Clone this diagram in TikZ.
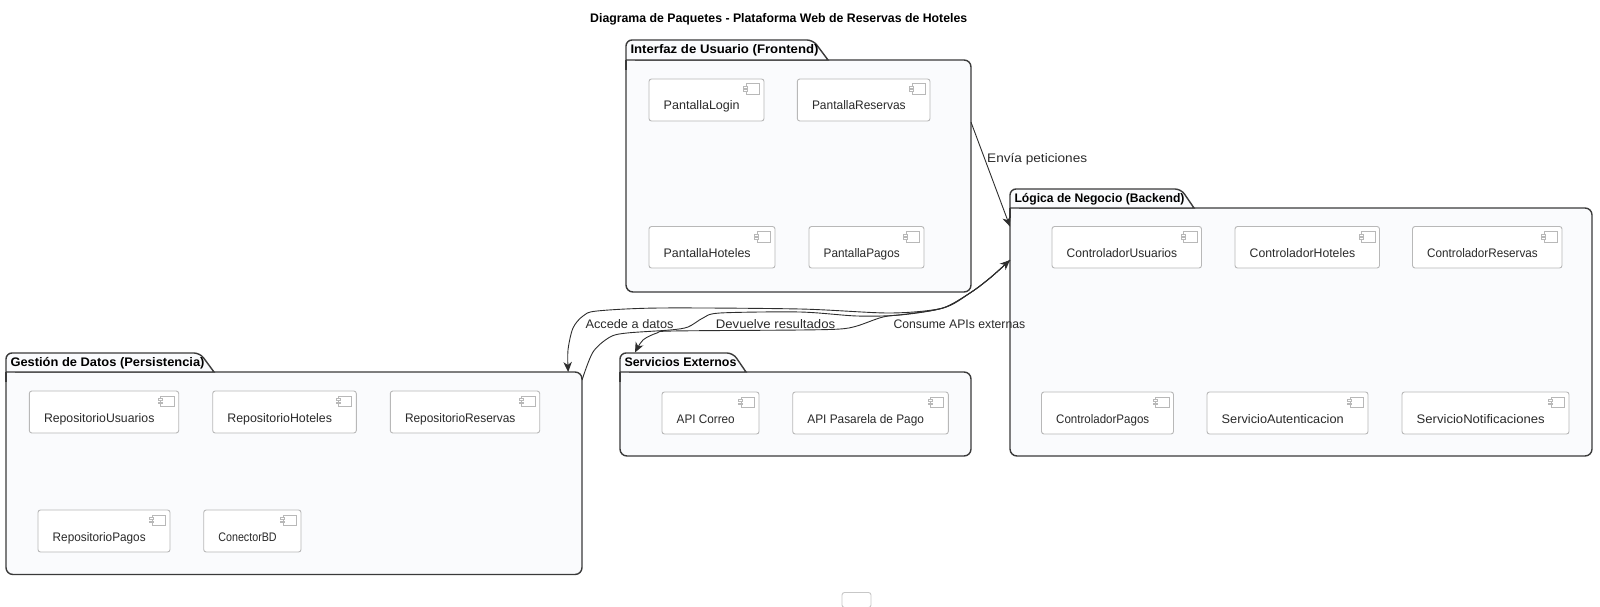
\documentclass[tikz,border=0pt]{standalone}
\usepackage{graphicx}
\usepackage{fontspec}
\setmainfont{Liberation Sans}
\usetikzlibrary{calc,arrows.meta}
\definecolor{pkgfill}{HTML}{FAFBFD}
\definecolor{pkgline}{HTML}{3A3A3A}
\definecolor{compline}{HTML}{B8B8B8}
\definecolor{txt}{HTML}{2A2A2A}
\newcommand{\fitw}[2]{\resizebox{#1pt}{\height}{#2}}
\tikzset{
  pkgbody/.style={draw=pkgline,fill=pkgfill,line width=1.4pt,rounded corners=7pt,inner sep=0pt,outer sep=0pt},
  pkgtab/.style={draw=pkgline,fill=pkgfill,line width=1.4pt},
  pkgtitle/.style={font=\bfseries\fontsize{12.4}{14}\selectfont,text=black,anchor=base west,inner sep=0pt},
  compnode/.style={draw=compline,fill=white,line width=0.9pt,rounded corners=2.5pt,inner sep=0pt,outer sep=0pt},
  comptext/.style={font=\fontsize{12.4}{14}\selectfont,text=txt,inner sep=0pt,anchor=base west},
  compicon/.style={draw=compline,fill=white,line width=0.6pt},
  link/.style={draw=black!82,line width=0.9pt,-{Stealth[length=10pt,width=8.5pt,inset=3pt]}},
  linklabel/.style={font=\fontsize{12.4}{14}\selectfont,text=txt,inner sep=0pt,anchor=base west}
}
% name x0 y0 x1 y1 tabtop tabTopRight tabBottomRight title
\newcommand{\pkgbox}[9]{%
  \pgfmathsetmacro{\pw}{#4-#2}\pgfmathsetmacro{\ph}{#5-#3}%
  \pgfmathsetmacro{\pcx}{(#2+#4)/2}\pgfmathsetmacro{\pcy}{(#3+#5)/2}%
  \pgfmathsetmacro{\plow}{#3+10}\pgfmathsetmacro{\pfx}{#2+9}\pgfmathsetmacro{\ptb}{#6+13.4}\pgfmathsetmacro{\ptx}{#2+4.3}%
  \pgfmathsetmacro{\ptw}{#8-#2-14}%
  \node[pkgbody,minimum width=\pw pt,minimum height=\ph pt] (#1) at (\pcx,\pcy) {};
  \fill[pkgfill] (#2,#3) rectangle (\pfx,\plow);
  \filldraw[pkgtab,rounded corners=6pt] (#2,#3) -- (#2,#6) -- (#7,#6) [sharp corners] -- (#8,#3) -- cycle;
  \draw[pkgtab,fill=none] (#2,\plow) -- (#2,#3);
  \node[pkgtitle] (#1-title) at (\ptx,\ptb) {\fitw{\ptw}{#9}};
}
% name x0 y0 x1 y1 text
\newcommand{\compbox}[6]{%
  \pgfmathsetmacro{\cw}{#4-#2}\pgfmathsetmacro{\ch}{#5-#3}%
  \pgfmathsetmacro{\ccx}{(#2+#4)/2}\pgfmathsetmacro{\ccy}{(#3+#5)/2}%
  \pgfmathsetmacro{\ctw}{#4-#2-39}\pgfmathsetmacro{\ctx}{#2+14.5}\pgfmathsetmacro{\cty}{#3+31}%
  \node[compnode,minimum width=\cw pt,minimum height=\ch pt] (#1) at (\ccx,\ccy) {};
  \pgfmathsetmacro{\ia}{#4-18}\pgfmathsetmacro{\ib}{#4-4.7}\pgfmathsetmacro{\ic}{#3+4.8}\pgfmathsetmacro{\id}{#3+15.3}%
  \draw[compicon] (\ia,\ic) rectangle (\ib,\id);
  \pgfmathsetmacro{\ie}{#4-20.5}\pgfmathsetmacro{\ig}{#4-16.5}\pgfmathsetmacro{\ih}{#3+7.5}\pgfmathsetmacro{\ii}{#3+9.3}\pgfmathsetmacro{\ij}{#3+10.8}\pgfmathsetmacro{\ik}{#3+12.6}%
  \draw[compicon] (\ie,\ih) rectangle (\ig,\ii);
  \draw[compicon] (\ie,\ij) rectangle (\ig,\ik);
  \node[comptext] (#1-text) at (\ctx,\cty) {\fitw{\ctw}{#6}};
}
\begin{document}
\begin{tikzpicture}[x=1pt,y=-1pt]
\useasboundingbox (0,0) rectangle (1600,607);
\node[font=\bfseries\fontsize{12.4}{15}\selectfont,text=black,inner sep=0pt,anchor=base west] (title) at (590,23) {\fitw{377}{Diagrama de Paquetes - Plataforma Web de Reservas de Hoteles}};

% Frontend
\pkgbox{front}{626}{60}{971}{292}{40}{813}{828}{Interfaz de Usuario (Frontend)}
\compbox{plogin}{649}{79}{764}{121}{PantallaLogin}
\compbox{preserv}{797.3}{79}{930}{121}{PantallaReservas}
\compbox{photel}{649}{226.5}{775}{268}{PantallaHoteles}
\compbox{ppago}{809}{226.5}{924}{268}{PantallaPagos}

% Backend
\pkgbox{back}{1010}{208}{1592}{456}{189}{1181}{1194}{Lógica de Negocio (Backend)}
\compbox{cusu}{1052}{226.5}{1201.5}{268}{ControladorUsuarios}
\compbox{chot}{1235}{226.5}{1379.5}{268}{ControladorHoteles}
\compbox{cres}{1412.5}{226.5}{1562}{268}{ControladorReservas}
\compbox{cpag}{1041.5}{392}{1173.5}{434}{ControladorPagos}
\compbox{saut}{1207}{392}{1368}{434}{ServicioAutenticacion}
\compbox{snot}{1402}{392}{1569}{434}{ServicioNotificaciones}

% Persistencia
\pkgbox{gest}{6}{372}{582}{574.5}{353}{200}{214}{Gestión de Datos (Persistencia)}
\compbox{rusu}{29.3}{391}{178.7}{433}{RepositorioUsuarios}
\compbox{rhot}{212.7}{391}{356.3}{433}{RepositorioHoteles}
\compbox{rres}{390.3}{391}{539.7}{433}{RepositorioReservas}
\compbox{rpag}{38}{510}{170}{552}{RepositorioPagos}
\compbox{rbd}{203.7}{510}{301}{552}{ConectorBD}

% Externos
\pkgbox{serv}{620}{372}{971}{456}{353}{733}{746}{Servicios Externos}
\compbox{acor}{662}{392}{759}{434}{API Correo}
\compbox{apas}{792.7}{392}{948.3}{434}{API Pasarela de Pago}

% lone box
\node[draw=black!22,fill=white,line width=0.9pt,rounded corners=2.5pt,minimum width=29pt,minimum height=15pt,inner sep=0pt] (lone) at (856.5,600) {};

% anchors on the package edges
\coordinate (fs) at ($(front.north east)!0.268!(front.south east)$);
\coordinate (bt) at ($(back.north west)!0.075!(back.south west)$);
\coordinate (bs) at ($(back.north west)!0.21!(back.south west)$);
\coordinate (ge) at ($(gest.north west)!0.976!(gest.north east)$);
\coordinate (gs) at ($(gest.north east)!0.04!(gest.south east)$);
\coordinate (se) at ($(serv.north west)+(15,-19.5)$);

% connectors
\draw[link] (fs) -- (bt);
\draw[link] plot[smooth,tension=0.5] coordinates {(bs) (990,278) (970,293) (943,308) (890,313) (800,309) (660,308) (597,311) (583,316) (573,328) (568,350) (ge)};
\draw[link] plot[smooth,tension=0.5] coordinates {(gs) (593,352) (610,337) (627,333) (670,330) (688,327) (703,318) (720,313) (800,312) (857,316) (900,315) (943,308) (970,293) (990,278) (bs)};
\draw[link] plot[smooth,tension=0.5] coordinates {(bs) (990,278) (970,293) (943,308) (907,314) (883,317) (857,326) (840,329) (800,330) (673,331) (657,333) (643,340) (se)};

% labels
\node[linklabel] (l1) at (987,163) {\fitw{100}{Envía peticiones}};
\node[linklabel] (l2) at (585.3,328) {\fitw{88}{Accede a datos}};
\node[linklabel] (l3) at (715.7,328) {\fitw{119.3}{Devuelve resultados}};
\node[linklabel] (l4) at (893.3,328) {\fitw{131.7}{Consume APIs externas}};
\end{tikzpicture}
\end{document}
